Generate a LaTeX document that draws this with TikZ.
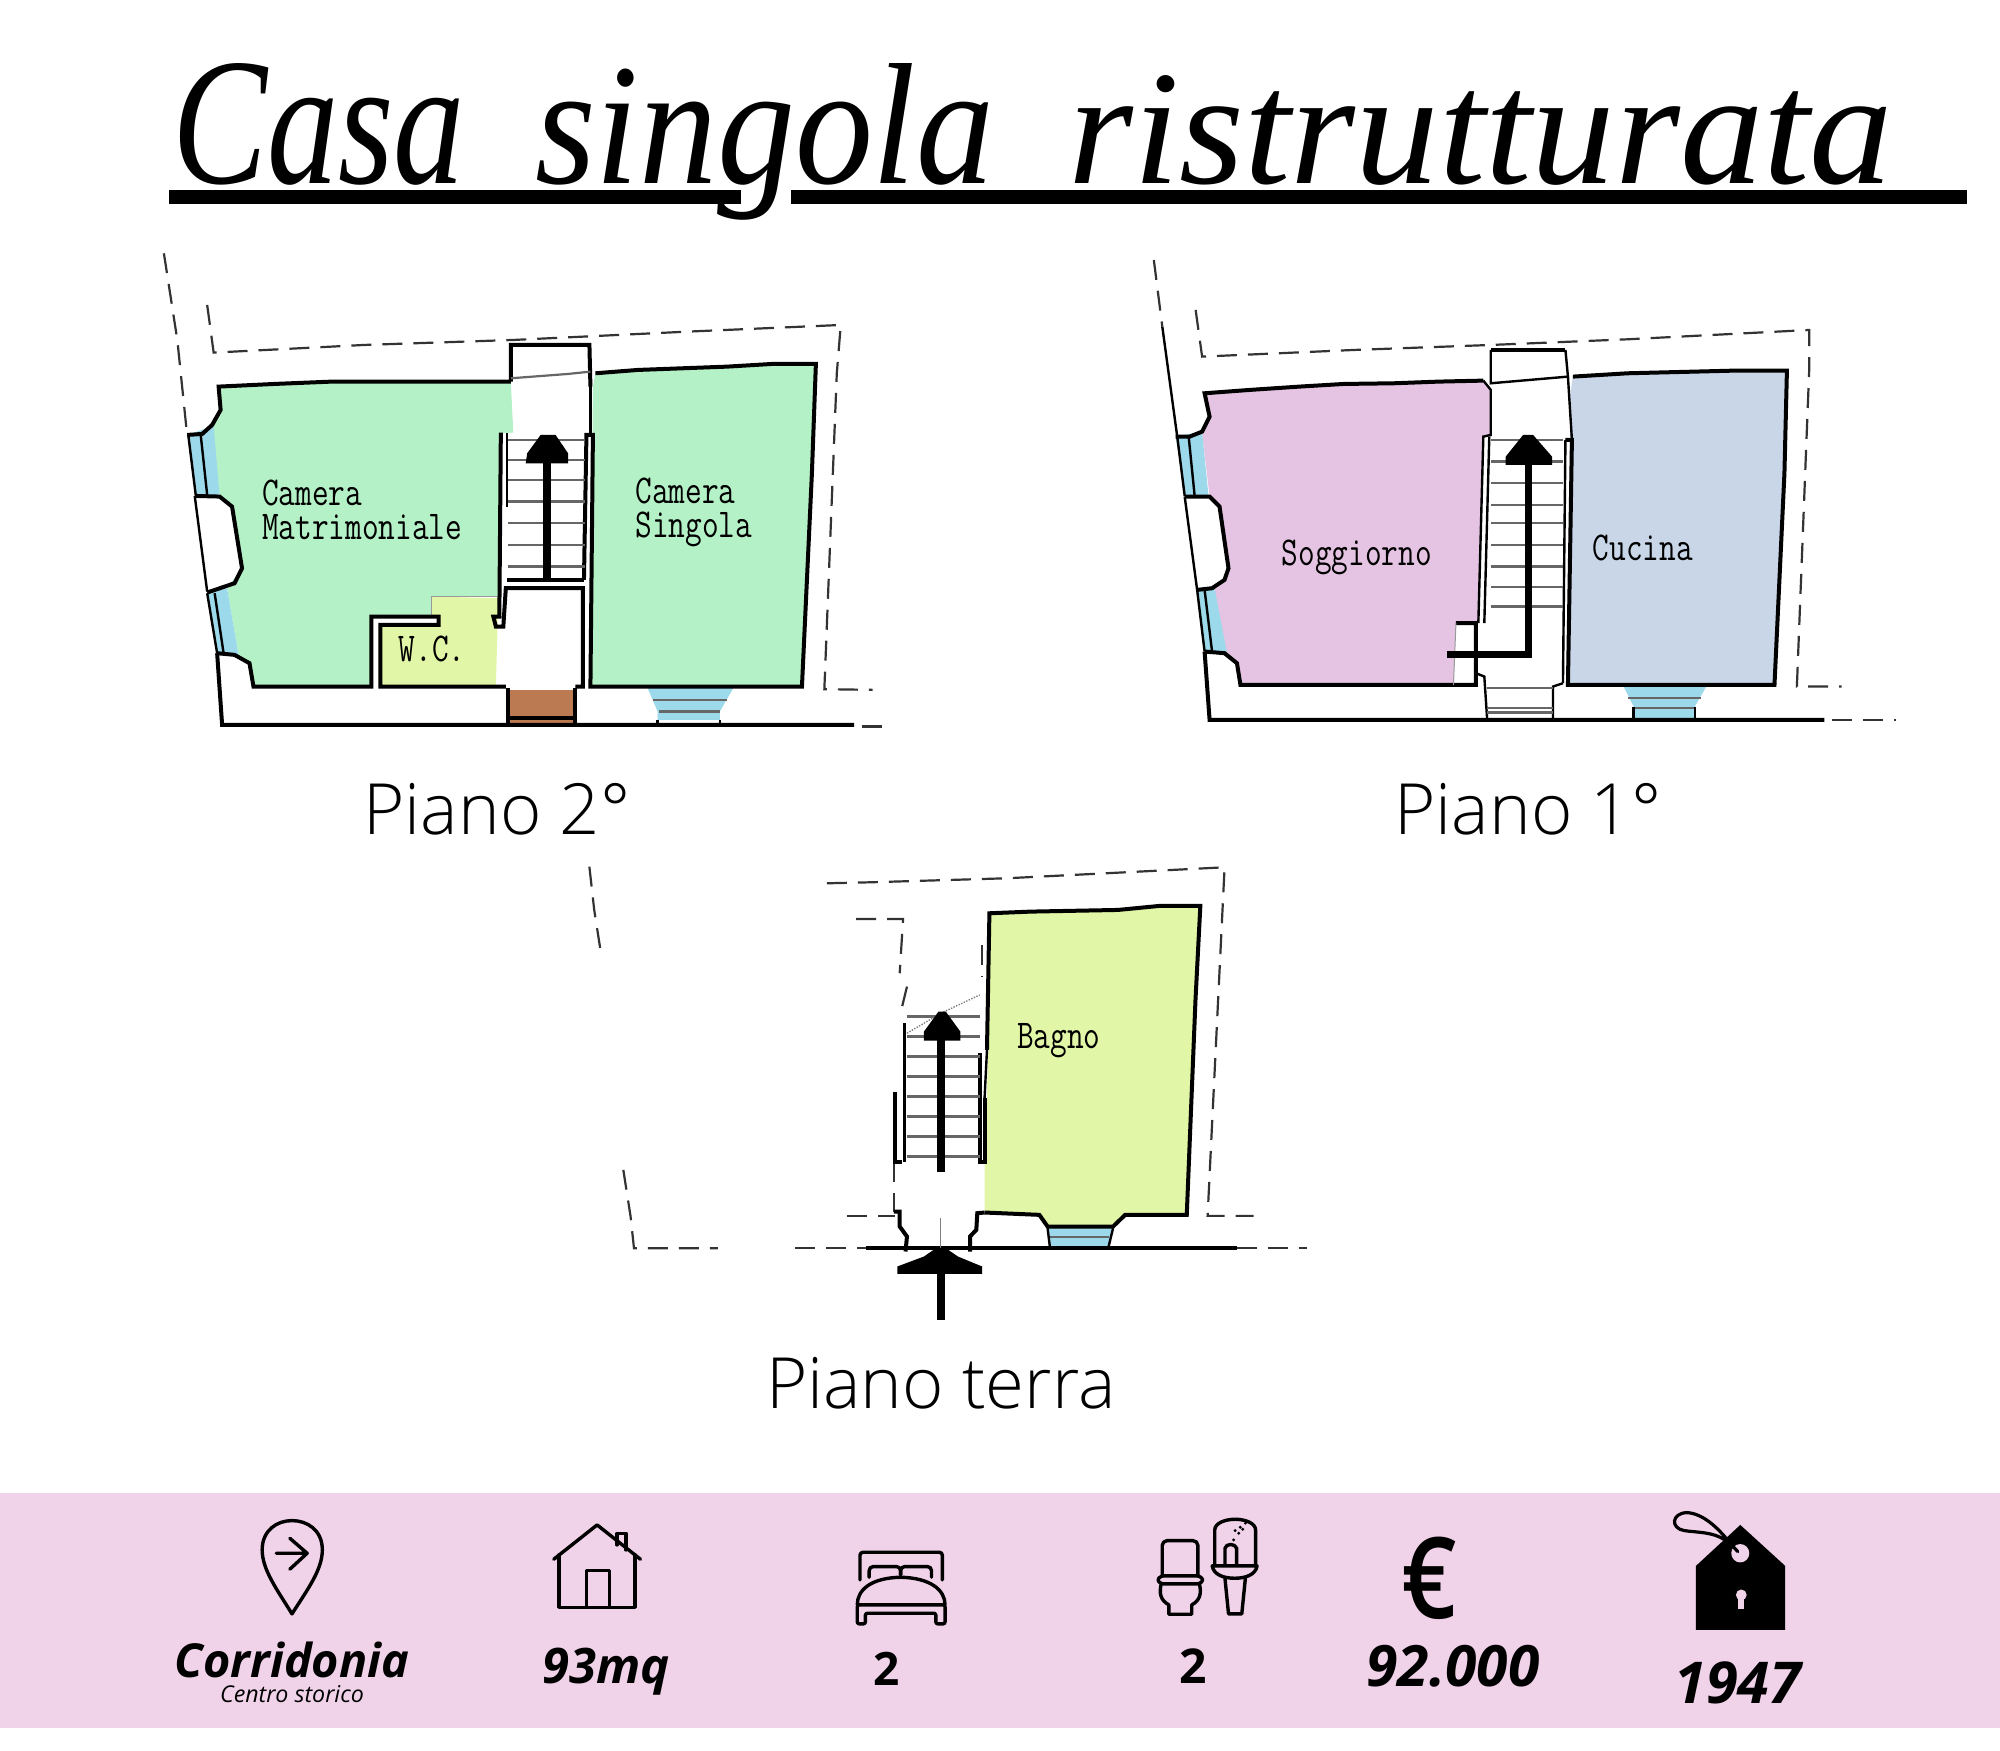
\documentclass[tikz,border=0pt]{standalone}
\usepackage{fontspec}
\usepackage{graphicx}
\setmainfont{Open Sans}
\newfontfamily\oslight{Open Sans Light}
\newfontfamily\ossemi{Open Sans Semibold}
\newfontfamily\titlefont{Liberation Serif}
\definecolor{pinkband}{HTML}{F0D2E9}
\definecolor{roomgreen}{HTML}{B4F1C6}
\definecolor{roomyellow}{HTML}{E1F6A6}
\definecolor{roommauve}{HTML}{E4C4E2}
\definecolor{roomblue}{HTML}{C8D6E8}
\definecolor{winblue}{HTML}{9CD9EA}
\definecolor{brick}{HTML}{BC7A52}
\newcommand{\roomtext}[1]{\scalebox{.79}[1]{\fontsize{58.3pt}{48.4pt}\selectfont\ttfamily #1}}
\tikzset{
  wall/.style={draw=black,line width=.2cm,line join=miter},
  thinwall/.style={draw=black,line width=.12cm},
  stepline/.style={draw=black!60,line width=.11cm},
  dashline/.style={draw=black!80,line width=.11cm,dash pattern=on 1cm off .55cm},
  roomlabel/.style={anchor=base west,inner sep=0pt},
  twolabel/.style={anchor=south west,inner sep=0pt,align=left,font=\fontsize{58.3pt}{48.4pt}\selectfont},
  planlabel/.style={anchor=base,inner sep=0pt,font=\oslight\fontsize{100.5pt}{100.5pt}\selectfont},
  bigval/.style={anchor=base,inner sep=0pt},
  icon/.style={draw=black,line width=.17cm,line join=round,line cap=round},
  windowpane/.style={fill=winblue},
}
\begin{document}
\begin{tikzpicture}[x=.05cm,y=-.05cm]
\useasboundingbox (0,0) rectangle (2000,1750);
\fill[white] (0,0) rectangle (2000,1750);

% title
\fill[black] (169,190) rectangle (741,204);
\fill[black] (791,190) rectangle (1967,204);
\node[anchor=base west,inner sep=0pt] (title) at (172,183) {\titlefont\itshape\fontsize{100pt}{100pt}\selectfont\resizebox{14.65cm}{6cm}{Casa}\hspace{3.5cm}\resizebox{22.95cm}{6cm}{singola}\hspace{3.7cm}\resizebox{41.25cm}{5.4cm}{ristrutturata}};

% ---------- Piano 2
\begin{scope}[xshift=7cm,yshift=-12cm,x=.02488cm,y=-.016667cm]
\fill[roomgreen] (158,440)--(270,432)--(385,425)--(745,425)--(750,578)--(725,580)--(720,1070)--(585,1070)--(585,1130)--(465,1130)--(465,1340)--(228,1340)--(220,1270)--(198,1245)--(175,1045)--(205,985)--(185,800)--(160,770)--(145,558)--(162,510)--cycle;
\fill[roomgreen] (915,400)--(1000,390)--(1180,380)--(1270,372)--(1358,372)--(1350,700)--(1330,1340)--(905,1340)--(910,440)--cycle;
\fill[roomyellow] (585,1070)--(720,1075)--(715,1340)--(480,1340)--(480,1155)--(600,1155)--(600,1130)--(585,1130)--cycle;
\draw[draw=black!40,line width=.05cm] (585,1130)--(585,1070)--(720,1070);
\fill[windowpane] (95,585)--(148,558)--(160,770)--(112,765)--cycle;
\fill[windowpane] (135,1060)--(175,1045)--(198,1245)--(155,1240)--cycle;
\draw[thinwall] (97,585)--(112,765) (122,585)--(135,765) (135,1060)--(155,1240) (150,1060)--(168,1240);
\fill[windowpane] (1020,1345)--(1192,1345)--(1165,1415)--(1165,1440)--(1040,1440)--(1040,1415)--cycle;
\draw[stepline] (1030,1380)--(1180,1380) (1042,1415)--(1165,1415);
\fill[brick] (740,1350) rectangle (875,1460);
% dashed
\draw[dashline] (48,40)--(75,300)--(95,590);
\draw[dashline] (135,195)--(148,338)--(450,315)--(750,300)--(1100,275)--(1408,255)--(1400,400)--(1375,1348)--(1472,1350);
\draw[dashline] (1450,1460)--(1510,1460);
% walls
\draw[wall] (745,425)--(385,425)--(270,432)--(158,440)--(162,510)--(145,555)--(125,582)--(95,585);
\draw[wall] (110,768)--(160,770)--(185,800)--(205,985)--(190,1030)--(135,1058);
\draw[thinwall] (110,768)--(135,1055);
\draw[wall] (155,1240)--(190,1245)--(220,1270)--(228,1340)--(465,1340)--(465,1130)--(600,1130)--(600,1155)--(483,1155)--(483,1340)--(735,1340);
\draw[wall] (155,1240)--(165,1455)--(1435,1455);
\draw[wall] (745,425)--(745,315)--(903,315)--(905,440);
\draw[stepline] (745,415)--(860,402)--(905,395);
\draw[wall] (915,400)--(1000,390)--(1180,380)--(1270,372)--(1358,372)--(1350,700)--(1330,1340)--(905,1340)--(910,585)--(897,585)--(892,1020);
\draw[thinwall] (905,400)--(905,585);
\draw[wall] (725,578)--(722,1130)--(710,1130)--(715,1160)--(730,1160)--(735,1045)--(890,1045)--(890,1340)--(875,1340);
\draw[thinwall] (737,580)--(737,800);
\draw[wall] (737,1020)--(892,1020);
\foreach \y in {600,660,720,785,850,915,980} \draw[stepline] (740,\y)--(895,\y);
\draw[wall] (740,1345)--(740,1460) (875,1345)--(875,1460);
\draw[wall] (740,1435)--(875,1435);
\draw[thinwall] (1040,1440)--(1040,1455) (1165,1440)--(1165,1455);
% arrow
\fill[black] (810,1020) rectangle (826,670);
\fill[black] (775,670)--(860,670)--(860,640)--(835,585)--(805,585)--(778,640)--cycle;
% labels
\node[twolabel] (camL) at (245,900) {\roomtext{Camera}\\\roomtext{Matrimoniale}};
\node[twolabel] (camR) at (995,920) {\roomtext{Camera}\\\roomtext{Singola}};
\node[roomlabel] (wc) at (520,1264) {\roomtext{W.C.}};
\end{scope}
\node[planlabel] (p2) at (497,834) {Piano 2°};

% ---------- Piano 1
\begin{scope}[xshift=56.5cm,yshift=-12cm,x=.02488cm,y=-.016667cm]
\fill[roommauve] (150,460)--(240,450)--(340,440)--(430,432)--(530,430)--(620,425)--(710,422)--(725,450)--(725,585)--(710,590)--(700,1150)--(655,1150)--(650,1335)--(222,1335)--(215,1270)--(195,1250)--(190,1235)--(165,1045)--(190,1020)--(198,985)--(180,800)--(160,770)--(145,580)--(160,530)--(155,500)--cycle;
\fill[roomblue] (890,410)--(1000,400)--(1215,392)--(1320,392)--(1315,700)--(1295,1335)--(880,1335)--(885,460)--cycle;
\fill[windowpane] (92,590)--(145,575)--(158,770)--(110,770)--cycle;
\fill[windowpane] (135,1050)--(170,1045)--(195,1240)--(150,1235)--cycle;
\draw[thinwall] (95,590)--(110,768) (118,590)--(130,768) (135,1050)--(150,1235) (150,1050)--(165,1235);
\fill[windowpane] (990,1335)--(1160,1335)--(1135,1400)--(1135,1440)--(1012,1440)--(1012,1400)--cycle;
\draw[stepline] (1000,1375)--(1148,1375) (1012,1405)--(1135,1405);
\draw[dashline] (48,60)--(65,260);
\draw[thinwall] (65,260)--(95,590);
\draw[dashline] (132,210)--(145,350)--(450,330)--(725,315)--(1000,298)--(1365,270)--(1365,380)--(1340,1340)--(1430,1340);
\draw[dashline] (1410,1440)--(1540,1440);
\draw[wall] (710,422)--(620,425)--(530,430)--(430,432)--(340,440)--(240,450)--(150,460)--(160,530)--(145,575)--(120,590)--(92,590);
\draw[wall] (110,770)--(160,770)--(180,800)--(198,985)--(190,1020)--(165,1045)--(135,1050);
\draw[thinwall] (110,770)--(135,1050);
\draw[wall] (150,1235)--(190,1240)--(215,1270)--(222,1335)--(695,1335)--(695,1150)--(655,1150);
\draw[draw=black!40,line width=.05cm] (655,1150)--(650,1335);
\draw[wall] (150,1235)--(160,1440)--(1395,1440);
\draw[thinwall] (710,422)--(725,450)--(725,585)--(710,590)--(700,1150);
\draw[thinwall] (722,590)--(712,1150);
\draw[wall] (725,330)--(875,330);
\draw[thinwall] (725,330)--(725,430)--(880,410)--(875,330);
\draw[thinwall] (875,600)--(870,1330);
\draw[wall] (890,410)--(1000,400)--(1215,392)--(1320,392)--(1315,700)--(1295,1335)--(880,1335)--(888,600)--(875,600);
\draw[thinwall] (880,410)--(888,600);
\draw[thinwall] (870,1330)--(850,1340)--(850,1445);
\draw[thinwall] (695,1300)--(712,1310)--(718,1445);
\foreach \y in {600,665,730,795,850,915,980,1042,1100} \draw[stepline] (725,\y)--(870,\y);
\draw[stepline] (718,1345)--(850,1345) (718,1405)--(850,1405) (718,1418)--(850,1418);
\draw[thinwall] (1012,1400)--(1012,1440) (1135,1400)--(1135,1440);
% arrow
\draw[draw=black,line width=.35cm,line join=miter] (638,1243)--(800,1243)--(800,670);
\fill[black] (755,675)--(848,675)--(848,650)--(810,585)--(790,585)--(755,650)--cycle;
\node[roomlabel] (sog) at (305,976) {\roomtext{Soggiorno}};
\node[roomlabel] (cuc) at (930,961) {\roomtext{Cucina}};
\end{scope}
\node[planlabel] (p1) at (1528,834) {Piano 1°};

% ---------- Piano terra
\begin{scope}[xshift=28.5cm,yshift=-42.5cm,x=.02424cm,y=-.016667cm]
\fill[roomyellow] (865,190)--(950,185)--(1130,180)--(1215,168)--(1300,168)--(1290,450)--(1272,1095)--(1145,1095)--(1120,1130)--(985,1130)--(968,1095)--(855,1085)--(855,940)--(865,500)--cycle;
\fill[windowpane] (985,1135)--(1120,1135)--(1110,1195)--(990,1195)--cycle;
\draw[stepline] (990,1162)--(1112,1162);
\draw[thinwall] (985,1135)--(990,1195) (1120,1135)--(1110,1195);
\draw[dashline] (40,50)--(50,180)--(65,320);
\draw[dashline] (110,960)--(125,1100)--(132,1195)--(305,1195);
\draw[dashline] (465,1195)--(610,1195);
\draw[dashline] (1375,1195)--(1520,1195);
\draw[dashline] (530,100)--(620,97)--(900,85)--(1350,52)--(1340,350)--(1315,1098)--(1410,1098);
\draw[dashline] (590,207)--(687,207)--(680,370);
\draw[dashline] (695,410)--(685,470);
\draw[dashline] (850,285)--(850,380);
\draw[dashline] (668,935)--(668,1085);
\draw[dashline] (572,1098)--(670,1098);
\draw[wall] (610,1193)--(1375,1193);
\draw[wall] (855,1088)--(968,1095)--(985,1130)--(1120,1130)--(1145,1095)--(1272,1095)--(1290,450)--(1300,168)--(1215,168)--(1130,180)--(950,185)--(865,190)--(860,600);
\draw[thinwall] (860,600)--(855,745);
\draw[wall] (855,745)--(855,935)--(845,935)--(845,610);
\draw[thinwall] (690,520)--(690,935);
\draw[wall] (670,725)--(670,935)--(685,935);
\foreach \y in {500,560,620,680,740,800,860,920} \draw[stepline] (695,\y)--(845,\y);
\draw[draw=black!50,line width=.07cm,dotted] (695,550)--(765,490)--(845,435);
\draw[wall] (668,1085)--(680,1085)--(680,1130)--(695,1160)--(692,1205);
\draw[wall] (855,1088)--(840,1090)--(838,1140)--(825,1160)--(825,1205);
\draw[draw=black!50,line width=.05cm] (765,1105)--(765,1195);
\fill[black] (756,965) rectangle (774,570);
\fill[black] (730,572)--(805,572)--(805,545)--(775,485)--(760,485)--(730,545)--cycle;
\fill[black] (756,1270) rectangle (774,1410);
\fill[black] (675,1272)--(850,1272)--(850,1250)--(800,1220)--(775,1195)--(755,1195)--(730,1220)--(675,1250)--cycle;
\node[roomlabel] (bag) at (922,596) {\roomtext{Bagno}};
\end{scope}
\node[planlabel] (p0) at (941,1408) {Piano terra};

% ---------- band
\fill[pinkband] (0,1493) rectangle (2000,1728);

\begin{scope}[xshift=7.5cm,yshift=-74.5cm,x=.0271cm,y=-.016667cm]
% pin
\draw[icon] (262,372) .. controls (235,300) and (207,240) .. (207,180) .. controls (207,120) and (235,92) .. (262,92) .. controls (290,92) and (318,120) .. (318,180) .. controls (318,240) and (290,300) .. (262,372) -- cycle;
\draw[icon] (233,190)--(290,190) (258,145)--(290,190)--(258,238);
% house
\draw[icon] (745,208)--(825,105)--(905,208);
\draw[icon] (755,195)--(755,352)--(895,352)--(895,195);
\draw[icon] (805,352)--(805,242)--(848,242)--(848,352);
\draw[icon] (862,165)--(862,130)--(878,130)--(878,180);
% bed
\draw[icon,rounded corners=.15cm] (1310,270)--(1310,187)--(1462,187)--(1462,270);
\draw[icon,rounded corners=.2cm] (1327,262)--(1327,230)--(1385,230)--(1385,255);
\draw[icon,rounded corners=.2cm] (1385,255)--(1385,230)--(1442,230)--(1442,262);
\draw[icon] (1305,345) .. controls (1305,300) and (1330,264) .. (1385,262) .. controls (1440,264) and (1467,300) .. (1467,345);
\draw[icon,rounded corners=.1cm] (1305,345)--(1467,345)--(1467,402)--(1450,402)--(1450,370)--(1320,370)--(1320,402)--(1305,402)--cycle;
\node[bigval,font=\bfseries\itshape\fontsize{66.6pt}{66.6pt}\selectfont] (corr) at (262,562) {Corridonia};
\node[bigval,font=\itshape\fontsize{33pt}{33pt}\selectfont] (centro) at (262,637) {Centro storico};
\node[bigval,font=\bfseries\itshape\fontsize{69.6pt}{69.6pt}\selectfont] (mq) at (842,580) {93mq};
\node[bigval,font=\bfseries\fontsize{65.4pt}{65.4pt}\selectfont] (beds) at (1360,587) {2};
\end{scope}

\begin{scope}[xshift=55cm,yshift=-74.5cm,x=.02551cm,y=-.016667cm]
% toilet
\draw[icon,rounded corners=.25cm] (122,255)--(122,152)--(192,152)--(192,255);
\draw[icon,rounded corners=.12cm] (120,258)--(195,258)--(203,270)--(195,282)--(120,282)--(112,270)--cycle;
\draw[icon] (120,282) .. controls (116,310) and (118,330) .. (135,345)--(135,373)--(180,373)--(180,345) .. controls (197,330) and (199,310) .. (195,282);
\draw[draw=black,line width=.1cm,dotted] (130,278)--(185,278);
% sink
\draw[icon] (225,225)--(225,120) .. controls (225,100) and (245,88) .. (265,88) .. controls (285,88) and (305,100) .. (305,120)--(305,225);
\draw[icon] (220,228)--(308,228) .. controls (305,255) and (285,265) .. (264,265) .. controls (243,265) and (223,255) .. (220,228)--cycle;
\draw[icon] (245,265)--(252,372)--(278,372)--(285,265);
\draw[icon] (245,222)--(245,175) .. controls (247,160) and (265,160) .. (268,175)--(268,222);
\fill[black] (285,100) circle (.08cm) (275,112) circle (.08cm) (265,122) circle (.08cm) (272,130) circle (.08cm) (262,150) circle (.08cm) (280,118) circle (.08cm);
% euro
\node[inner sep=0pt,anchor=base] (euro) at (645,385) {\scalebox{.85}[1]{\ossemi\fontsize{160.7pt}{160.7pt}\selectfont €}};
% tag
\fill[black] (1168,420)--(1168,228)--(1255,105)--(1343,228)--(1343,420)--cycle;
\fill[pinkband] (1255,190) ellipse (.45cm and .46cm);
\fill[pinkband] (1257,315) circle (.27cm);
\fill[pinkband] (1251,315) rectangle (1263,358);
\draw[draw=black,line width=.16cm,line cap=round] (1250,185) -- (1235,160) .. controls (1210,110) and (1180,70) .. (1150,68) .. controls (1120,70) and (1118,115) .. (1145,122) .. controls (1170,128) and (1200,125) .. (1225,150);
\node[bigval,font=\bfseries\fontsize{68.3pt}{68.3pt}\selectfont] (baths) at (183,582) {2};
\node[bigval,font=\bfseries\itshape\fontsize{81pt}{81pt}\selectfont] (price) at (692,590) {92.000};
\node[bigval,font=\bfseries\itshape\fontsize{82pt}{82pt}\selectfont] (year) at (1250,640) {1947};
\end{scope}
\end{tikzpicture}
\end{document}
